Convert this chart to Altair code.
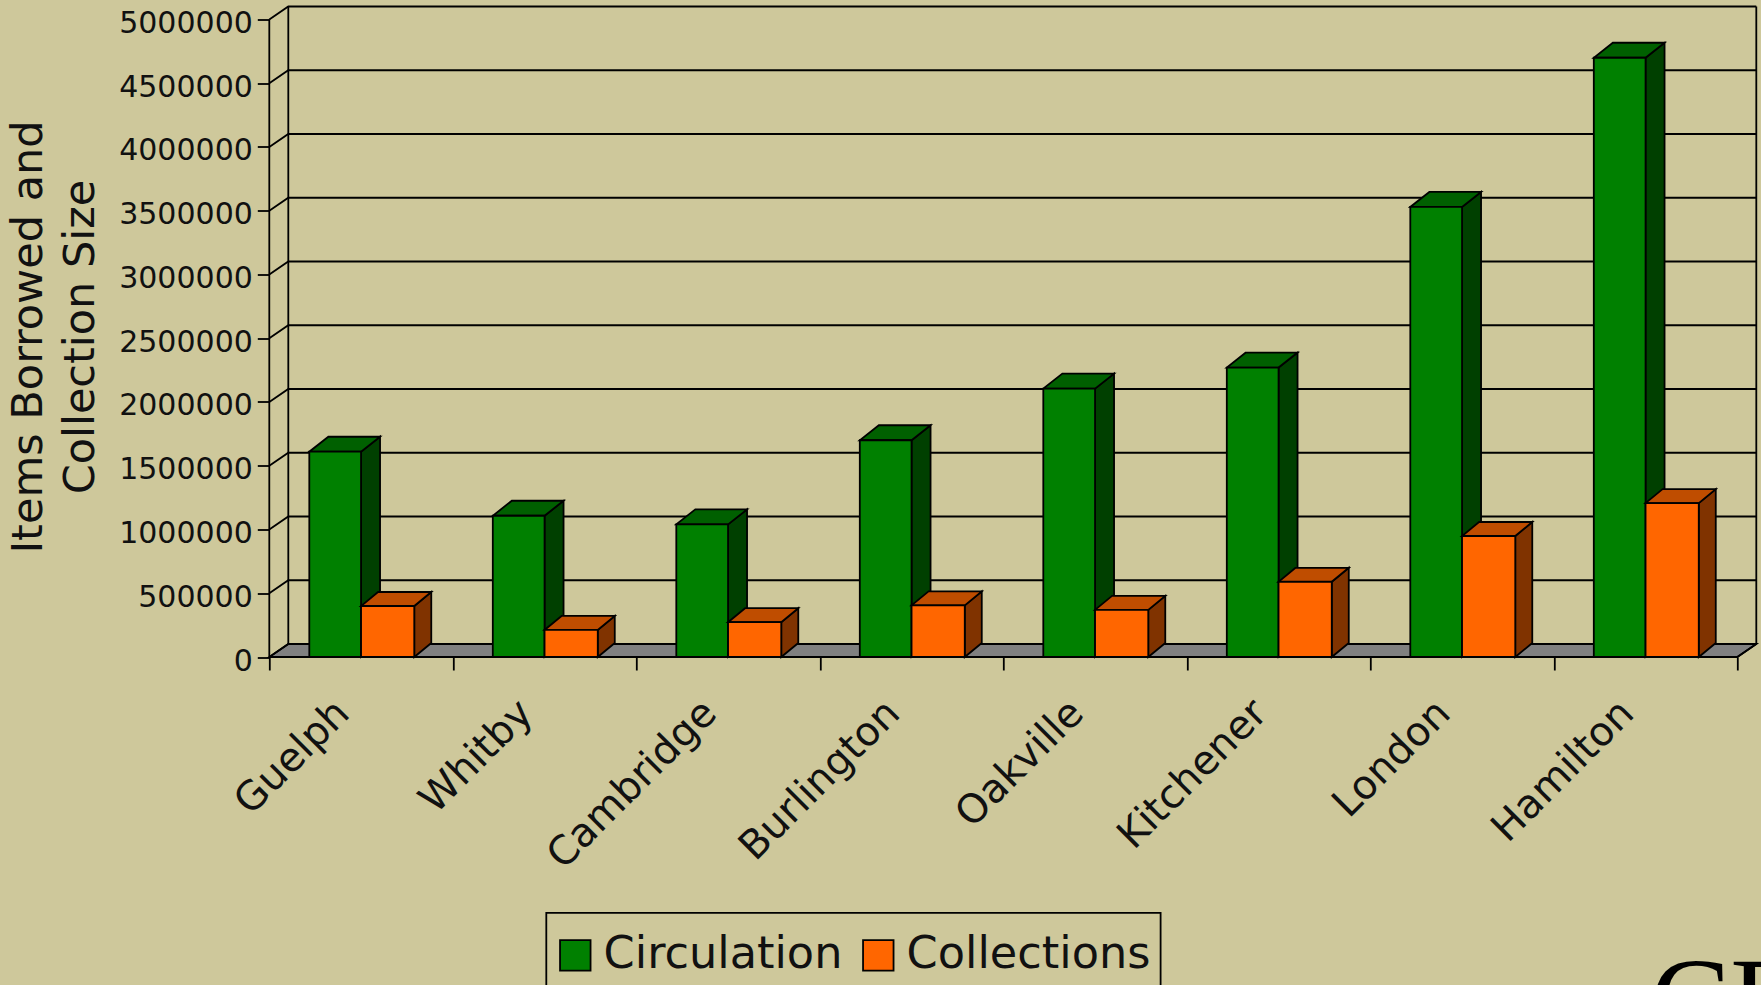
import altair as alt
import pandas as pd

# ---- values ----
cities = ["Guelph", "Whitby", "Cambridge", "Burlington", "Oakville", "Kitchener", "London", "Hamilton"]
circulation = [1610000, 1108000, 1040000, 1700000, 2105000, 2270000, 3530000, 4700000]
collections = [400000, 212000, 273000, 405000, 370000, 590000, 949000, 1207000]
y_ticks = [0, 500000, 1000000, 1500000, 2000000, 2500000, 3000000, 3500000, 4000000, 4500000, 5000000]
series_names = ["Circulation", "Collections"]

BG = "#CEC89B"
FONT = "DejaVu Sans"
FACE = ["#008000", "#FF6600"]
TOP = ["#006000", "#BF4D00"]
SIDE = ["#004000", "#803300"]

# pseudo-3D depth, expressed in data units of the two axes
PX_X = 1 / 183.5
PX_Y = 5000000 / 637.7
WALL_DX, WALL_DY = 19 * PX_X, 13 * PX_Y
BAR_DX = [19 * PX_X, 17 * PX_X]
BAR_DY = [15 * PX_Y, 14 * PX_Y]
EDGES = [(0.218, 0.5), (0.5, 0.79)]

X_MAX = 8 + WALL_DX
Y_MAX = 5000000 + WALL_DY
xs = alt.Scale(domain=[0, X_MAX], nice=False, zero=False)
ys = alt.Scale(domain=[0, Y_MAX], nice=False, zero=False)
STROKE = 1.8


def x_enc(f="x", **k):
    return alt.X(f"{f}:Q", scale=xs, **k)


def y_enc(f="y", **k):
    return alt.Y(f"{f}:Q", scale=ys, **k)


layers = []

# floor
floor = pd.DataFrame({"y": [0, WALL_DY], "x": [0, WALL_DX], "x2": [8, X_MAX]})
layers.append(
    alt.Chart(floor).mark_area(orient="horizontal", fill="#808080", stroke="black", strokeWidth=STROKE)
    .encode(y=y_enc(), x=x_enc(), x2="x2:Q")
)

# wall grid: slanted bit + horizontal line per tick
grid_rows = []
for v in y_ticks:
    grid_rows += [
        {"g": v, "x": 0, "y": v, "o": 0},
        {"g": v, "x": WALL_DX, "y": v + WALL_DY, "o": 1},
        {"g": v, "x": X_MAX, "y": v + WALL_DY, "o": 2},
    ]
layers.append(
    alt.Chart(pd.DataFrame(grid_rows)).mark_line(color="black", strokeWidth=STROKE)
    .encode(x=x_enc(), y=y_enc(), detail="g:N", order="o:Q")
)

# frame lines
frame_rows = [
    {"g": "axis", "x": 0, "y": 0, "o": 0}, {"g": "axis", "x": 0, "y": 5000000, "o": 1},
    {"g": "back", "x": WALL_DX, "y": WALL_DY, "o": 0}, {"g": "back", "x": WALL_DX, "y": Y_MAX, "o": 1},
    {"g": "right", "x": 8, "y": 0, "o": 0}, {"g": "right", "x": X_MAX, "y": WALL_DY, "o": 1},
    {"g": "right", "x": X_MAX, "y": Y_MAX, "o": 2},
    {"g": "base", "x": 0, "y": 0, "o": 0}, {"g": "base", "x": 8, "y": 0, "o": 1},
]
layers.append(
    alt.Chart(pd.DataFrame(frame_rows)).mark_line(color="black", strokeWidth=STROKE)
    .encode(x=x_enc(), y=y_enc(), detail="g:N", order="o:Q")
)

# bars: side, top and front faces for each series
for s, values in enumerate([circulation, collections]):
    dx, dy = BAR_DX[s], BAR_DY[s]
    left, right = EDGES[s]
    side, top, front = [], [], []
    for i, v in enumerate(values):
        side += [
            {"c": i, "x": i + right, "y": v, "y2": 0},
            {"c": i, "x": i + right + dx, "y": v + dy, "y2": dy},
        ]
        top += [
            {"c": i, "y": v, "x": i + left, "x2": i + right},
            {"c": i, "y": v + dy, "x": i + left + dx, "x2": i + right + dx},
        ]
        front.append({"x": i + left, "x2": i + right, "y": v, "y2": 0, "series": series_names[s]})
    layers.append(
        alt.Chart(pd.DataFrame(side)).mark_area(fill=SIDE[s], stroke="black", strokeWidth=STROKE)
        .encode(x=x_enc(), y=y_enc(), y2="y2:Q", detail="c:N")
    )
    layers.append(
        alt.Chart(pd.DataFrame(top)).mark_area(orient="horizontal", fill=TOP[s], stroke="black", strokeWidth=STROKE)
        .encode(y=y_enc(), x=x_enc(), x2="x2:Q", detail="c:N")
    )
    layers.append(
        alt.Chart(pd.DataFrame(front)).mark_rect(stroke="black", strokeWidth=STROKE)
        .encode(
            x=x_enc(), x2="x2:Q", y=y_enc(), y2="y2:Q",
            fill=alt.Fill(
                "series:N",
                scale=alt.Scale(domain=series_names, range=FACE),
                legend=alt.Legend(
                    title=None, orient="none", direction="horizontal", columns=2,
                    legendX=553 - 269.3, legendY=933 - 6.5,
                    symbolType="square", symbolSize=930, symbolStrokeColor="black",
                    symbolStrokeWidth=STROKE, symbolOpacity=1,
                    labelFont=FONT, labelFontSize=44.6, labelColor="#111111", labelLimit=400,
                    labelOffset=6, columnPadding=13, padding=0,
                ),
            ),
        )
    )

# legend frame, running off the lower edge of the page as in the reference
legend_box = pd.DataFrame({
    "x": [(546.3 - 269.3) * PX_X], "x2": [(1160.6 - 269.3) * PX_X],
    "y": [(657 - 913) * PX_Y], "y2": [(657 - 1000) * PX_Y],
})
layers.append(
    alt.Chart(legend_box).mark_rect(fill=BG, stroke="black", strokeWidth=STROKE, clip=False)
    .encode(x=x_enc(), x2="x2:Q", y=y_enc(), y2="y2:Q")
)

# axes carried by an invisible layer
axes = (
    alt.Chart(pd.DataFrame({"x": [0], "y": [0]})).mark_point(opacity=0)
    .encode(
        x=x_enc(axis=alt.Axis(
            values=list(range(9)), labels=False, title=None, domain=False, grid=False,
            tickSize=13, tickColor="black", tickWidth=STROKE,
        )),
        y=y_enc(axis=alt.Axis(
            values=y_ticks, format="d", domain=False, grid=False,
            tickSize=12, tickColor="black", tickWidth=STROKE, labelPadding=5, labelOffset=4,
            labelFont=FONT, labelFontSize=30, labelColor="#111111",
            title=["Items Borrowed and", "Collection Size"],
            titleFont=FONT, titleFontSize=43, titleFontWeight="normal", titleColor="#111111",
            titleLineHeight=52, titleX=-219, titleY=330,
        )),
    )
)
layers.insert(0, axes)

# category labels
labels = pd.DataFrame({"x": [i + 0.5 for i in range(8)], "y": [0] * 8, "t": cities})
layers.append(
    alt.Chart(labels).mark_text(
        angle=315, align="right", baseline="middle", font=FONT, fontSize=40, color="#111111",
        xOffset=-18, yOffset=50,
    ).encode(x=x_enc(), y=y_enc(), text="t:N")
)

# fragment of a logo cut off by the lower-right corner
logo = pd.DataFrame({"x": [8], "y": [0], "t": ["CF"]})
layers.append(
    alt.Chart(logo).mark_text(
        align="left", baseline="alphabetic", font="Liberation Serif", fontSize=120, color="black",
        xOffset=-87, yOffset=384,
    ).encode(x=x_enc(), y=y_enc(), text="t:N")
)

chart = (
    alt.layer(*layers)
    .resolve_scale(x="shared", y="shared")
    .properties(
        width=1487, height=650.5, background=BG,
        padding={"left": 269.3, "top": 6.5, "right": 4.7, "bottom": 328},
        autosize=alt.AutoSizeParams(type="none"),
    )
    .configure_view(stroke=None)
)

chart.save("out.html", embed_options={
    "renderer": "svg", "actions": False,
    "defaultStyle": "body{margin:0;background:" + BG + ";overflow:hidden}",
})
